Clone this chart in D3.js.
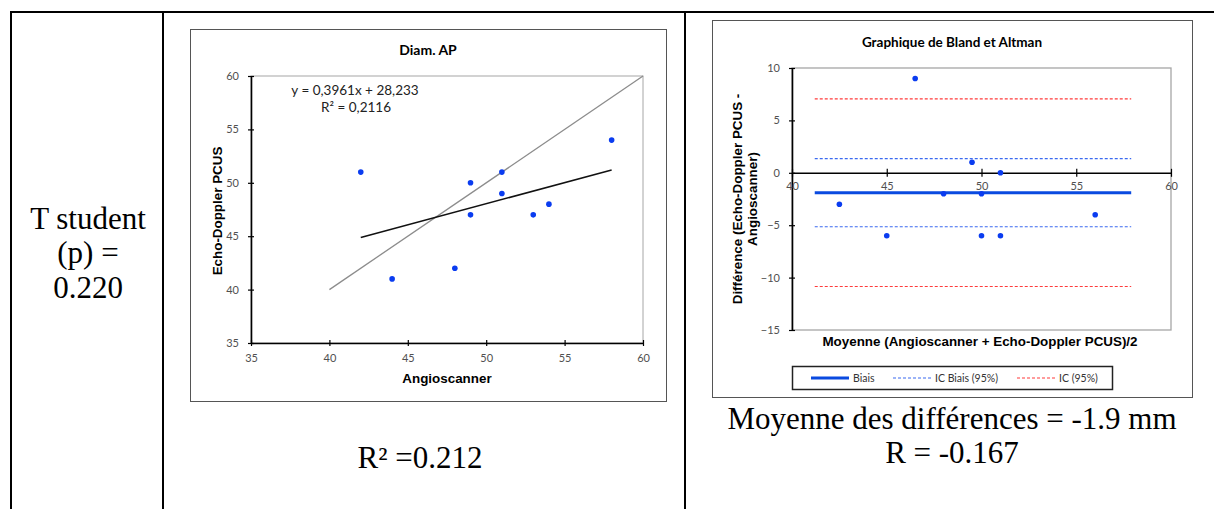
<!DOCTYPE html>
<html>
<head>
<meta charset="utf-8">
<script src="https://cdn.jsdelivr.net/npm/d3@7"></script>
<style>
  body { margin: 0; background: #fff; }
  svg { display: block; }
</style>
</head>
<body>
<svg id="fig" width="1214" height="509"></svg>
<script>
// scatter data: angioscanner vs echo-doppler
var angio = [42, 44, 48, 49, 49, 51, 51, 53, 54, 58];
var echo = [51, 41, 42, 50, 47, 51, 49, 47, 48, 54];
var regSlope = 0.3961, regIntercept = 28.233;
var scatterTicks = [35, 40, 45, 50, 55, 60];

// bland-altman data
var baMean = [46.5, 42.5, 45, 49.5, 48, 51, 50, 50, 51, 56];
var baDiff = [9, -3, -6, 1, -2, 0, -2, -6, -6, -4];
var bias = -1.9;
var icBias = [1.35, -5.15];
var ic95 = [7.05, -10.85];
var limitSpan = [41.2, 57.9];
var baXTicks = [40, 45, 50, 55, 60];
var baYTicks = [-15, -10, -5, 0, 5, 10];

var svg = d3.select('#fig');
var serif = '"Liberation Serif", "Times New Roman", serif';
var sans = 'Lato, "Open Sans", sans-serif';
var arial = '"Liberation Sans", Arial, sans-serif';

// table lines
function hline(x1, x2, y, w) {
  svg.append('line').attr('x1', x1).attr('x2', x2).attr('y1', y).attr('y2', y)
    .attr('stroke', '#000').attr('stroke-width', w);
}
function vline(x, y1, y2, w) {
  svg.append('line').attr('x1', x).attr('x2', x).attr('y1', y1).attr('y2', y2)
    .attr('stroke', '#000').attr('stroke-width', w);
}
hline(10, 1214, 12, 2);
vline(11, 11, 509, 2);
vline(163, 11, 509, 2);
vline(685, 11, 509, 2);

function cellText(x, y, s) {
  svg.append('text').attr('x', x).attr('y', y).attr('text-anchor', 'middle')
    .style('font-family', serif).style('font-size', '31px').text(s);
}
cellText(88, 229, 'T student');
cellText(88, 263, '(p) =');
cellText(88, 298, '0.220');
cellText(420, 468, 'R\u00b2 =0.212');
cellText(952, 429, 'Moyenne des diff\u00e9rences = -1.9 mm');
cellText(952, 463, 'R = -0.167');

// ---------- scatter chart ----------
svg.append('rect').attr('x', 190.5).attr('y', 29.5).attr('width', 476).attr('height', 372)
  .attr('fill', '#fff').attr('stroke', '#555').attr('stroke-width', 1);

var x = d3.scaleLinear().domain([35, 60]).range([251, 643]);
var y = d3.scaleLinear().domain([35, 60]).range([343, 76]);

svg.append('rect').attr('x', x(35)).attr('y', y(60)).attr('width', x(60) - x(35)).attr('height', y(35) - y(60))
  .attr('fill', 'none').attr('stroke', '#a6a6a6').attr('stroke-width', 1);

svg.append('text').attr('x', 428).attr('y', 55).attr('text-anchor', 'middle')
  .style('font-family', sans).style('font-weight', 'bold').style('font-size', '14px').text('Diam. AP');

function styleAxis(g) {
  g.select('.domain').attr('stroke', '#000').attr('stroke-width', 1.6);
  g.selectAll('.tick text').style('font-family', sans).style('font-size', '11px').attr('fill', '#505050');
  g.selectAll('.tick line').attr('stroke', '#000').attr('stroke-width', 1.2);
}

var yAx = svg.append('g').attr('transform', 'translate(' + x(35) + ',0)')
  .call(d3.axisLeft(y).tickValues(scatterTicks).tickSize(4).tickSizeOuter(0).tickPadding(8));
styleAxis(yAx);
yAx.selectAll('.tick line').attr('x1', 3).attr('x2', -3);

var xAx = svg.append('g').attr('transform', 'translate(0,' + y(35) + ')')
  .call(d3.axisBottom(x).tickValues(scatterTicks).tickSize(4).tickSizeOuter(0).tickPadding(7));
styleAxis(xAx);
xAx.selectAll('.tick line').attr('y1', -3).attr('y2', 3);

svg.append('text').attr('x', 447).attr('y', 383).attr('text-anchor', 'middle')
  .style('font-family', arial).style('font-weight', 'bold').style('font-size', '13.4px').text('Angioscanner');
svg.append('text').attr('transform', 'translate(222,211) rotate(-90)').attr('text-anchor', 'middle')
  .style('font-family', arial).style('font-weight', 'bold').style('font-size', '13.4px').text('Echo-Doppler PCUS');

// identity line
svg.append('line').attr('x1', x(40)).attr('y1', y(40)).attr('x2', x(60)).attr('y2', y(60))
  .attr('stroke', '#8c8c8c').attr('stroke-width', 1.3);
// regression
var xr = d3.extent(angio);
svg.append('line').attr('x1', x(xr[0])).attr('y1', y(regSlope * xr[0] + regIntercept))
  .attr('x2', x(xr[1])).attr('y2', y(regSlope * xr[1] + regIntercept))
  .attr('stroke', '#111').attr('stroke-width', 1.5);

svg.selectAll('.sp').data(angio).enter().append('circle')
  .attr('cx', function(d) { return x(d); })
  .attr('cy', function(d, i) { return y(echo[i]); })
  .attr('r', 2.8).attr('fill', '#0a3cf0');

svg.append('text').attr('x', 355).attr('y', 95).attr('text-anchor', 'middle')
  .style('font-family', sans).style('font-size', '13.5px').attr('fill', '#222').text('y = 0,3961x + 28,233');
svg.append('text').attr('x', 356).attr('y', 112).attr('text-anchor', 'middle')
  .style('font-family', sans).style('font-size', '13.5px').attr('fill', '#222').text('R\u00b2 = 0,2116');

// ---------- bland-altman chart ----------
svg.append('rect').attr('x', 712.5).attr('y', 20.5).attr('width', 480).attr('height', 377)
  .attr('fill', '#fff').attr('stroke', '#555').attr('stroke-width', 1);

var bx = d3.scaleLinear().domain([40, 60]).range([792, 1171]);
var by = d3.scaleLinear().domain([-15, 10]).range([330, 68]);

svg.append('rect').attr('x', bx(40)).attr('y', by(10)).attr('width', bx(60) - bx(40)).attr('height', by(-15) - by(10))
  .attr('fill', 'none').attr('stroke', '#a6a6a6').attr('stroke-width', 1.3);

svg.append('text').attr('x', 952).attr('y', 47).attr('text-anchor', 'middle')
  .style('font-family', sans).style('font-weight', 'bold').style('font-size', '13.5px').text('Graphique de Bland et Altman');

var limits = [
  { v: ic95[0], c: '#ff3b3b', w: 1.2, dash: '3,2' },
  { v: ic95[1], c: '#ff3b3b', w: 1.2, dash: '3,2' },
  { v: icBias[0], c: '#3a6af0', w: 1.2, dash: '3,2' },
  { v: icBias[1], c: '#3a6af0', w: 1.2, dash: '3,2' },
  { v: bias, c: '#0a4ae0', w: 3, dash: null }
];

var byAx = svg.append('g').attr('transform', 'translate(' + bx(40) + ',0)')
  .call(d3.axisLeft(by).tickValues(baYTicks).tickSize(4).tickSizeOuter(0).tickPadding(8));
styleAxis(byAx);
byAx.selectAll('.tick line').attr('x1', 3).attr('x2', -3);

var bxAx = svg.append('g').attr('transform', 'translate(0,' + by(0) + ')')
  .call(d3.axisBottom(bx).tickValues(baXTicks).tickSize(4).tickSizeOuter(0).tickPadding(7));
styleAxis(bxAx);
bxAx.selectAll('.tick line').attr('y1', -4).attr('y2', 4);
bxAx.selectAll('.tick text').attr('dy', '0.55em');

svg.selectAll('.lim').data(limits).enter().append('line')
  .attr('x1', bx(limitSpan[0])).attr('x2', bx(limitSpan[1]))
  .attr('y1', function(d) { return by(d.v); }).attr('y2', function(d) { return by(d.v); })
  .attr('stroke', function(d) { return d.c; }).attr('stroke-width', function(d) { return d.w; })
  .attr('stroke-dasharray', function(d) { return d.dash; });

svg.selectAll('.bp').data(baMean).enter().append('circle')
  .attr('cx', function(d) { return bx(d); })
  .attr('cy', function(d, i) { return by(baDiff[i]); })
  .attr('r', 2.8).attr('fill', '#0a3cf0');

svg.append('text').attr('x', 980).attr('y', 346).attr('text-anchor', 'middle')
  .style('font-family', arial).style('font-weight', 'bold').style('font-size', '13.4px')
  .text('Moyenne (Angioscanner + Echo-Doppler PCUS)/2');
var yt = svg.append('text').attr('transform', 'translate(742,199) rotate(-90)').attr('text-anchor', 'middle')
  .style('font-family', arial).style('font-weight', 'bold').style('font-size', '13.4px');
yt.append('tspan').attr('x', 0).attr('dy', 0).text('Diff\u00e9rence (Echo-Doppler PCUS -');
yt.append('tspan').attr('x', 0).attr('dy', 15).text('Angioscanner)');

// legend
svg.append('rect').attr('x', 792.5).attr('y', 366.5).attr('width', 320).attr('height', 23)
  .attr('fill', '#fff').attr('stroke', '#222').attr('stroke-width', 1.5);
var legendItems = [
  { label: 'Biais', x: 811, c: '#0a4ae0', w: 3, dash: null },
  { label: 'IC Biais (95%)', x: 893, c: '#3a6af0', w: 1.2, dash: '3,2' },
  { label: 'IC (95%)', x: 1017, c: '#ff3b3b', w: 1.2, dash: '3,2' }
];
var lg = svg.selectAll('.lg').data(legendItems).enter().append('g');
lg.append('line').attr('x1', function(d) { return d.x; }).attr('x2', function(d) { return d.x + 38; })
  .attr('y1', 378).attr('y2', 378)
  .attr('stroke', function(d) { return d.c; }).attr('stroke-width', function(d) { return d.w; })
  .attr('stroke-dasharray', function(d) { return d.dash; });
lg.append('text').attr('x', function(d) { return d.x + 42; }).attr('y', 382)
  .style('font-family', sans).style('font-size', '10.5px').attr('fill', '#333')
  .text(function(d) { return d.label; });
</script>
</body>
</html>
